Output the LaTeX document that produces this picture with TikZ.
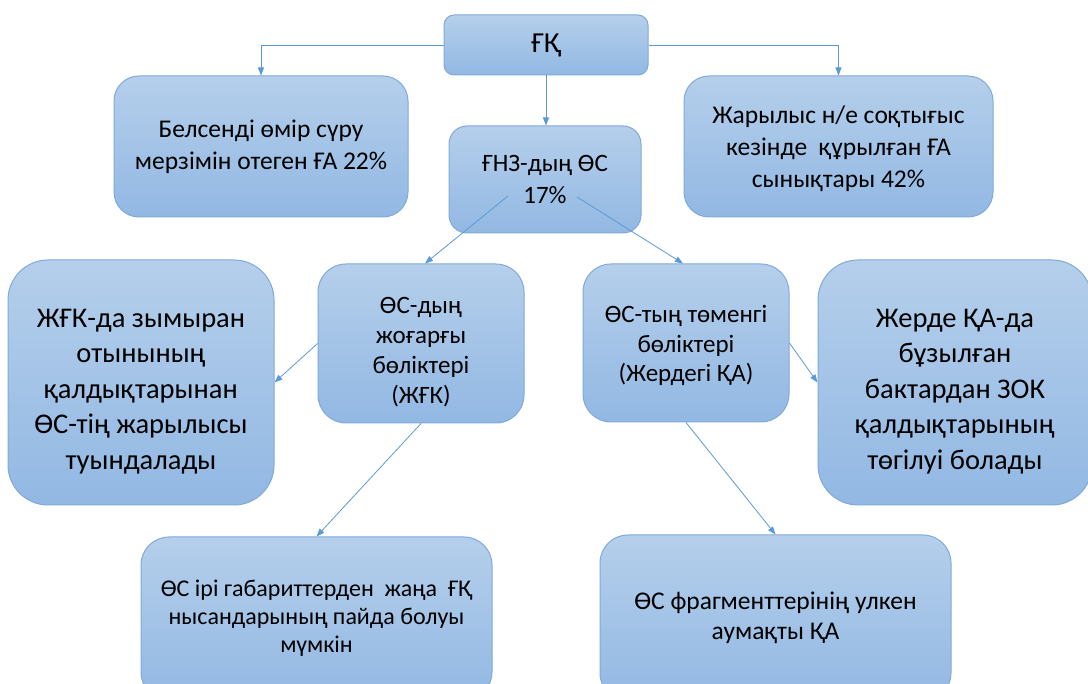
\documentclass[tikz,border=0pt]{standalone}
\usepackage{fontspec}
\setmainfont{Carlito}
\usetikzlibrary{arrows.meta}
\definecolor{boxtop}{HTML}{B5CFEB}
\definecolor{boxbot}{HTML}{92B8E3}
\definecolor{boxline}{HTML}{80AADB}
\definecolor{conn}{HTML}{5B9BD5}
\tikzset{
  box/.style={draw=boxline, line width=1pt, top color=boxtop, bottom color=boxbot,
    align=center, inner sep=0pt, text=black},
  arr/.style={draw=conn, line width=0.8pt, -{Triangle[length=8pt,width=6pt]}},
  fA/.style={font=\fontsize{29}{34}\selectfont},
  fB/.style={font=\fontsize{25.5}{32}\selectfont},
  fF/.style={font=\fontsize{25}{32}\selectfont},
  fC/.style={font=\fontsize{25}{30}\selectfont},
  fG/.style={font=\fontsize{25}{29.5}\selectfont},
  fD/.style={font=\fontsize{24}{28}\selectfont},
  fH/.style={font=\fontsize{25.5}{30}\selectfont},
  fE/.style={font=\fontsize{28.5}{35.5}\selectfont},
}
\newcommand{\lowtext}[3]{\raisebox{#1}[0pt][0pt]{\parbox{#2}{\centering #3}}}
\begin{document}
\begin{tikzpicture}[x=1pt,y=-1pt]
\path[use as bounding box] (0,0) rectangle (1088,684);
\clip (0,0) rectangle (1088,684);
\fill[white] (0,0) rectangle (1088,684);
\node[box, fA, rounded corners=10pt, minimum width=204pt, minimum height=60pt] (top) at (546,45) {ҒҚ};
\node[box, fB, rounded corners=25pt, minimum width=294pt, minimum height=141pt] (bels) at (261,146.5) {Белсенді өмір сүру\\мерзімін отеген ҒА 22\%};
\node[box, fB, rounded corners=25pt, minimum width=309pt, minimum height=141pt] (zhar) at (838.5,146.5) {\lowtext{-8.5pt}{300pt}{Жарылыс н/е соқтығыс\\кезінде\ \ құрылған ҒА\\сынықтары 42\%}};
\node[box, fF, rounded corners=18pt, minimum width=192pt, minimum height=107pt] (fnz) at (545,179.5) {ҒНЗ-дың ӨС\\17\%};
\node[box, fE, rounded corners=40pt, minimum width=266pt, minimum height=245pt] (bigL) at (141,382.5) {\lowtext{-15pt}{250pt}{ЖҒК-да зымыран\\отынының\\қалдықтарынан\\ӨС-тің жарылысы\\туындалады}};
\node[box, fC, rounded corners=28pt, minimum width=206pt, minimum height=159pt] (jogh) at (421,343.5) {\lowtext{-15pt}{200pt}{ӨС-дың\\жоғарғы\\бөліктері\\(ЖҒК)}};
\node[box, fG, rounded corners=28pt, minimum width=206pt, minimum height=158pt] (tomen) at (686,343) {\lowtext{-9pt}{200pt}{ӨС-тың төменгі\\бөліктері\\(Жердегі ҚА)}};
\node[box, fE, rounded corners=40pt, minimum width=274pt, minimum height=245pt] (bigR) at (955,382.5) {\lowtext{-15pt}{260pt}{Жерде ҚА-да\\бұзылған\\бактардан ЗОК\\қалдықтарының\\төгілуі болады}};
\node[box, fD, rounded corners=28pt, minimum width=351pt, minimum height=163pt] (botL) at (316.5,618.5) {ӨС ірі габариттерден\ \ жаңа\ \ ҒҚ\\нысандарының пайда болуы\\мүмкін};
\node[box, fH, rounded corners=28pt, minimum width=351pt, minimum height=166pt] (botR) at (775.5,618) {ӨС фрагменттерінің улкен\\аумақты ҚА};
\coordinate (fnzL) at (508,196);
\coordinate (fnzR) at (577,197);
\draw[arr] (top.west) -| (bels.north);
\draw[arr] (top.east) -| (zhar.north);
\draw[arr] (top.south) -- (top.south |- fnz.north);
\draw[arr] (fnzL) -- (jogh.north -| 425,0);
\draw[arr] (fnzR) -- (tomen.north -| 683,0);
\draw[arr] (jogh.west) -- (bigL.east);
\draw[arr] (jogh.south) -- (botL.north);
\draw[arr] (tomen.east) -- (bigR.west);
\draw[arr] (tomen.south) -- (botR.north);
\end{tikzpicture}
\end{document}
